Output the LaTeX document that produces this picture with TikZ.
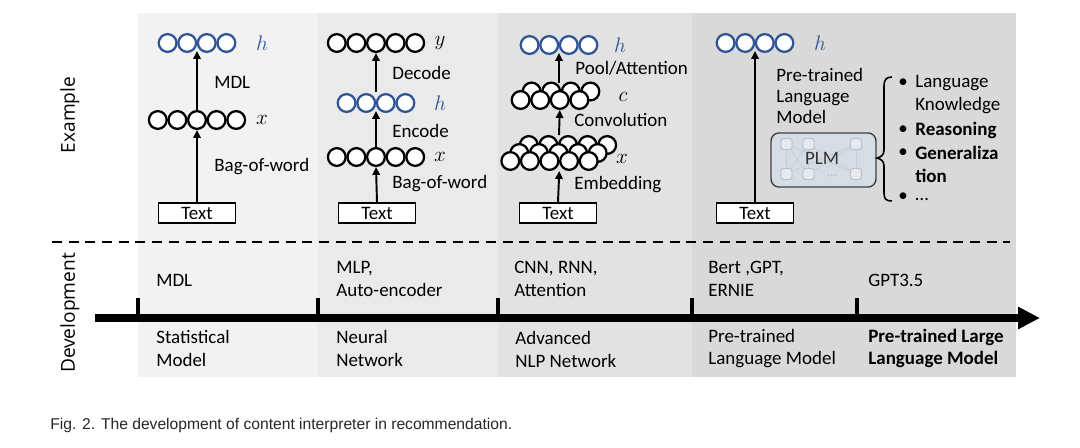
\documentclass[tikz,border=0pt]{standalone}
\usepackage{fontspec}
\setmainfont{Carlito}
\newfontfamily\sidefont{Open Sans}
\newfontfamily\capfont{Liberation Sans}
\usepackage{xcolor}
\usetikzlibrary{arrows.meta, calc}

\definecolor{hblue}{HTML}{2F5597}
\definecolor{panelA}{HTML}{F2F2F2}
\definecolor{panelB}{HTML}{EAEAEA}
\definecolor{panelC}{HTML}{E2E2E2}
\definecolor{panelD}{HTML}{D9D9D9}
\definecolor{plmfill}{HTML}{D6DCE5}
\definecolor{sqfill}{HTML}{E6EAF0}
\definecolor{sqline}{HTML}{B9BFC8}

\tikzset{
  unit/.style={circle, draw, line width=1.3pt, fill=white, minimum size=0.355cm, inner sep=0pt},
  textbox/.style={draw, line width=1.1pt, fill=white, minimum width=1.54cm, minimum height=0.40cm, inner sep=0pt},
  lbl/.style={anchor=west, inner sep=0pt, align=left},
  var/.style={inner sep=0pt, font=\fontsize{12.5}{12}\selectfont},
  up/.style={-{Triangle[length=4.5pt, width=4.2pt]}, line width=1.1pt},
  sq/.style={draw=sqline, fill=sqfill, rounded corners=1.5pt, minimum size=0.22cm, inner sep=0pt, line width=0.5pt},
}

% a row of touching circles: name, x, y, count, colour
\newcommand{\layer}[5]{%
  \foreach \k in {1,...,#4}
    \node[unit, draw=#5] (#1-\k) at ({#2+(\k-(#4+1)/2)*19.6}, #3) {};
  \coordinate (#1) at (#2,#3);
}

\begin{document}
\begin{tikzpicture}[x=0.02cm, y=-0.02cm, font=\fontsize{10.8}{13}\selectfont]
  \useasboundingbox (0,0) rectangle (1080,447);

  % panels
  \fill[panelA] (138,13) rectangle (318,377);
  \fill[panelB] (318,13) rectangle (498,377);
  \fill[panelC] (498,13) rectangle (692,377);
  \fill[panelD] (692,13) rectangle (1016,377);

  \node[rotate=90, font=\sidefont\fontsize{10.9}{12}\selectfont] (exlbl) at (70,115) {Example};
  \node[rotate=90, font=\sidefont\fontsize{10.9}{12}\selectfont] (devlbl) at (70,313) {Development};

  % statistical model
  \layer{h1}{197}{43}{4}{hblue}
  \layer{x1}{197}{120}{5}{black}
  \node[textbox] (t1) at (197,213) {Text};
  \node[var, text=hblue] at (262,43) {$h$};
  \node[var] at (262,120) {$x$};
  \draw[up] (t1.north) -- (x1-3.south);
  \draw[up] (x1-3.north) -- ($(h1)+(0,8)$);
  \node[lbl] (mdl) at (214,82) {MDL};
  \node[lbl] (bow1) at (214,167) {Bag-of-word};

  % neural network
  \layer{y2}{376}{43}{5}{black}
  \layer{h2}{376}{103}{4}{hblue}
  \layer{x2}{376}{157}{5}{black}
  \node[textbox] (t2) at (377,213) {Text};
  \node[var] at (440,43) {$y$};
  \node[var, text=hblue] at (440,103) {$h$};
  \node[var] at (440,157) {$x$};
  \draw[up] (t2.north) -- (x2-3.south);
  \draw[up] (x2-3.north) -- ($(h2)+(0,8)$);
  \draw[up] ($(h2)+(0,-11)$) -- (y2-3.south);
  \node[lbl] (dec) at (392,73) {Decode};
  \node[lbl] (enc) at (392,131) {Encode};
  \node[lbl] (bow2) at (392,184) {Bag-of-word};

  % advanced nlp network
  \layer{h3}{559}{45}{4}{hblue}
  \layer{cb}{561}{91.5}{4}{black}
  \layer{cf}{550}{100}{4}{black}
  \layer{xb}{568}{145}{5}{black}
  \layer{xm}{558.5}{153}{5}{black}
  \layer{xf}{549.5}{161}{5}{black}
  \node[textbox] (t3) at (558,213) {Text};
  \node[var, text=hblue] at (620,45) {$h$};
  \node[var] at (623,97) {$c$};
  \node[var] at (622,159) {$x$};
  \coordinate (ctop) at (559,83);
  \coordinate (xtop) at (559,135);
  \draw[up] (t3.north) -- ($(xf)+(9.8,10)$);
  \draw[up] (xtop) -- (cf-3.south);
  \draw[up] (ctop) -- ($(h3)+(0,8)$);
  \node[lbl] (pool) at (575,68) {Pool/Attention};
  \node[lbl] (conv) at (574,120) {Convolution};
  \node[lbl] (emb) at (574,185) {Embedding};

  % pre-trained language model
  \layer{h4}{755}{43}{4}{hblue}
  \node[textbox] (t4) at (755,213) {Text};
  \node[var, text=hblue] at (820,43) {$h$};
  \draw[up] (t4.north) -- ($(h4)+(0,8)$);
  \node[lbl, font=\fontsize{10.8}{12.2}\selectfont] (plmtxt) at (776,96) {Pre-trained\\Language\\Model};
  \node[draw=black!75, fill=plmfill, rounded corners=4.5pt, line width=0.8pt,
        minimum width=2.1cm, minimum height=1.08cm] (plm) at (823.5,160) {};
  \foreach \i/\xx in {1/786.5, 2/808.5, 3/856} {
    \node[sq] (sqt\i) at (\xx,144) {};
    \node[sq] (sqb\i) at (\xx,174) {};
  }
  \foreach \i in {1,2,3}
    \foreach \j in {1,2,3}
      \draw[sqline!80, line width=0.4pt] (sqt\i) -- (sqb\j);
  \foreach \i in {1,2,3} {
    \node[sq] at (sqt\i) {};
    \node[sq] at (sqb\i) {};
  }
  \node[text=black!80, inner sep=0pt] (plmname) at (822,158) {PLM};
  \node[text=sqline, inner sep=0pt, font=\fontsize{8}{8}\selectfont] (dots) at (832,176) {\dots};

  % brace and abilities
  \draw[line width=0.9pt] (892,77) .. controls (886,77) and (884,80) .. (884,86)
    -- (884,150) .. controls (884,155) and (881,157) .. (877,158)
    .. controls (881,159) and (884,161) .. (884,166)
    -- (884,193) .. controls (884,199) and (886,201) .. (892,201);
  \foreach \yy in {83,130,153,197}
    \node[inner sep=0pt] at (903,\yy) {•};
  \node[lbl] (ab1) at (915,83) {Language};
  \node[lbl] (ab2) at (915,106) {Knowledge};
  \node[lbl, font=\fontsize{10.8}{13}\bfseries] (ab3) at (915,130) {Reasoning};
  \node[lbl, font=\fontsize{10.8}{13}\bfseries] (ab4) at (915,153) {Generaliza};
  \node[lbl, font=\fontsize{10.8}{13}\bfseries] (ab5) at (915,176) {tion};
  \node[lbl] (ab6) at (915,199) {\dots};

  % divider
  \draw[dashed, dash pattern=on 5.7pt off 3.8pt, line width=1.1pt] (52,242) -- (1010,242);

  % timeline
  \coordinate (tl0) at (95,318);
  \coordinate (tl1) at (1040,318);
  \draw[line width=5.1pt, -{Triangle[length=12.5pt, width=12pt]}] (tl0) -- (tl1);
  \foreach \xx in {138,318,498,692,857}
    \draw[line width=2.3pt] (\xx,319) -- (\xx,298);

  \node[lbl] (d1) at (156,280) {MDL};
  \node[lbl] (d2) at (336,279) {MLP,\\Auto-encoder};
  \node[lbl] (d3) at (514,279) {CNN, RNN,\\Attention};
  \node[lbl] (d4) at (708,279) {Bert ,GPT,\\ERNIE};
  \node[lbl] (d5) at (868,280) {GPT3.5};

  \node[lbl] (s1) at (156,348.5) {Statistical\\Model};
  \node[lbl] (s2) at (336,348.5) {Neural\\Network};
  \node[lbl] (s3) at (515,349.5) {Advanced\\NLP Network};
  \node[lbl] (s4) at (708,348.5) {Pre-trained\\Language Model};
  \node[lbl, font=\fontsize{10.8}{13}\bfseries] (s5) at (868,348.5) {Pre-trained Large\\Language Model};

  \node[lbl, font=\capfont\fontsize{8.9}{10}\selectfont, text=black!85] (cap) at (50,425)
    {Fig. 2. The development of content interpreter in recommendation.};
\end{tikzpicture}
\end{document}
